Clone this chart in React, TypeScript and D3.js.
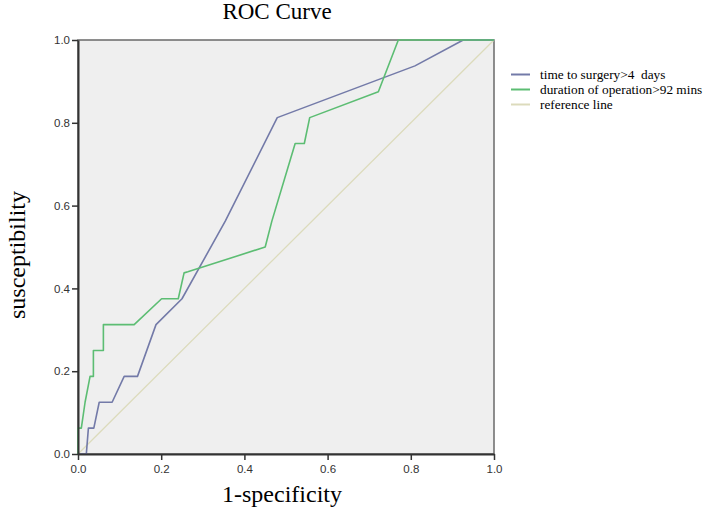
import { useEffect, useRef } from "react"
import * as d3 from "d3"

// ROC curve points (1-specificity, sensitivity)
const surgeryFpr = [0, 0.02, 0.025, 0.038, 0.051, 0.082, 0.111, 0.143, 0.1875, 0.25, 0.354, 0.479, 0.81, 0.926, 1]
const surgeryTpr = [0, 0, 0.0625, 0.0625, 0.125, 0.125, 0.1875, 0.1875, 0.3125, 0.375, 0.5625, 0.8125, 0.9375, 1, 1]

const durationFpr = [0, 0, 0.008, 0.017, 0.029, 0.037, 0.037, 0.061, 0.061, 0.135, 0.201, 0.241, 0.255, 0.264, 0.45, 0.466, 0.522, 0.544, 0.557, 0.722, 0.77, 1]
const durationTpr = [0, 0.0625, 0.0625, 0.125, 0.1875, 0.1875, 0.25, 0.25, 0.3125, 0.3125, 0.375, 0.375, 0.4375, 0.44, 0.5, 0.5625, 0.75, 0.75, 0.8125, 0.875, 1, 1]

const referenceFpr = [0, 1]
const referenceTpr = [0, 1]

const ticks = [0, 0.2, 0.4, 0.6, 0.8, 1.0]

const seriesNames = ["time to surgery>4  days", "duration of operation>92 mins", "reference line"]
const seriesColors = ["#737aa8", "#5cbd73", "#dcdbbc"]

export default function App() {
  const svgRef = useRef<SVGSVGElement>(null)

  useEffect(() => {
    if (!svgRef.current) return
    const svg = d3.select(svgRef.current)
    svg.selectAll("*").remove()

    const left = 78, right = 494, top = 40, bottom = 454
    const x = d3.scaleLinear().domain([0, 1]).range([left, right])
    const y = d3.scaleLinear().domain([0, 1]).range([bottom, top])

    // plot background and frame
    svg.append("rect")
      .attr("x", left).attr("y", top)
      .attr("width", right - left).attr("height", bottom - top)
      .attr("fill", "#efefef")
      .attr("stroke", "#6a6a6a")
      .attr("stroke-width", 1.5)

    const line = d3.line<[number, number]>().x((d) => x(d[0])).y((d) => y(d[1]))
    const series: [number[], number[]][] = [
      [referenceFpr, referenceTpr],
      [surgeryFpr, surgeryTpr],
      [durationFpr, durationTpr],
    ]
    const colorIdx = [2, 0, 1]
    series.forEach(([fx, ty], i) => {
      svg.append("path")
        .datum(fx.map((v, k) => [v, ty[k]] as [number, number]))
        .attr("d", line)
        .attr("fill", "none")
        .attr("stroke", seriesColors[colorIdx[i]])
        .attr("stroke-width", colorIdx[i] === 2 ? 1.3 : 1.6)
        .attr("stroke-linejoin", "round")
    })

    // axes
    const xAxis = svg.append("g")
      .attr("transform", `translate(0,${bottom})`)
      .call(d3.axisBottom(x).tickValues(ticks).tickFormat(d3.format(".1f")).tickSize(6).tickSizeOuter(0))
    const yAxis = svg.append("g")
      .attr("transform", `translate(${left},0)`)
      .call(d3.axisLeft(y).tickValues(ticks).tickFormat(d3.format(".1f")).tickSize(6).tickSizeOuter(0))
    ;[xAxis, yAxis].forEach((g) => {
      g.select(".domain").attr("stroke", "#333").attr("stroke-width", 2)
      g.selectAll(".tick line").attr("stroke", "#333").attr("stroke-width", 1.5)
      g.selectAll(".tick text")
        .attr("fill", "#333")
        .style("font-family", "Arial, 'Liberation Sans', sans-serif")
        .style("font-size", "11.5px")
    })
    xAxis.selectAll(".tick text").attr("dy", "0.9em")
    yAxis.selectAll(".tick text").attr("x", -8)

    // title and axis labels
    const serif = "'Times New Roman', 'Liberation Serif', serif"
    svg.append("text")
      .attr("x", 277).attr("y", 19)
      .attr("text-anchor", "middle")
      .style("font-family", serif).style("font-size", "23px")
      .text("ROC Curve")
    svg.append("text")
      .attr("x", 282).attr("y", 502)
      .attr("text-anchor", "middle")
      .style("font-family", serif).style("font-size", "24px")
      .text("1-specificity")
    svg.append("text")
      .attr("transform", "translate(25,255) rotate(-90)")
      .attr("text-anchor", "middle")
      .style("font-family", serif).style("font-size", "24px")
      .text("susceptibility")

    // legend
    const legend = svg.append("g")
    seriesNames.forEach((name, i) => {
      const ly = 74.5 + i * 15
      legend.append("line")
        .attr("x1", 511).attr("x2", 530)
        .attr("y1", ly).attr("y2", ly)
        .attr("stroke", seriesColors[i]).attr("stroke-width", 2)
      legend.append("text")
        .attr("x", 540).attr("y", ly + 4)
        .style("font-family", serif).style("font-size", "13.3px")
        .style("white-space", "pre")
        .text(name)
    })
  }, [])

  return (
    <svg
      ref={svgRef}
      width={709}
      height={510}
      style={{ position: "absolute", left: 0, top: 0, background: "#fff" }}
    />
  )
}
